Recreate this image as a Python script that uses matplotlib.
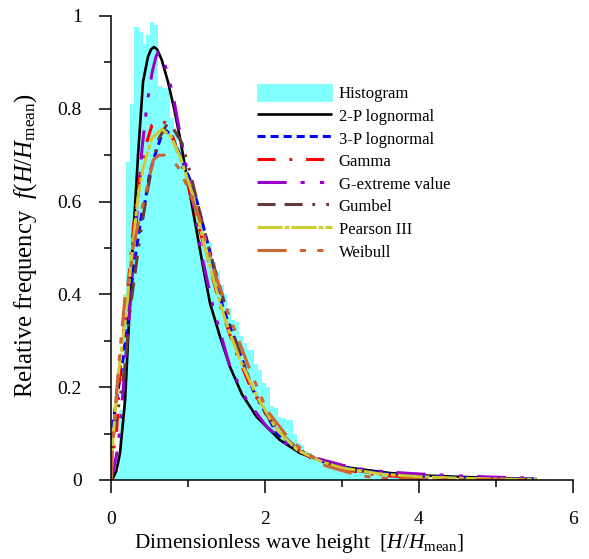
import matplotlib

matplotlib.use("Agg")
import matplotlib.pyplot as plt
from matplotlib.ticker import MultipleLocator

plt.rcParams["font.family"] = ["Liberation Serif", "DejaVu Serif"]
plt.rcParams["mathtext.fontset"] = "custom"
plt.rcParams["mathtext.rm"] = "Liberation Serif"
plt.rcParams["mathtext.it"] = "Liberation Serif:italic"
plt.rcParams["lines.scale_dashes"] = False

# histogram: left bin edges and relative frequency (bin width 0.05)
hist_left = [
    0.05, 0.10, 0.15, 0.20, 0.25, 0.30, 0.35, 0.40, 0.45, 0.50,
    0.55, 0.60, 0.65, 0.70, 0.75, 0.80, 0.85, 0.90, 0.95, 1.00,
    1.05, 1.10, 1.15, 1.20, 1.25, 1.30, 1.35, 1.40, 1.45, 1.50,
    1.55, 1.60, 1.65, 1.70, 1.75, 1.80, 1.85, 1.90, 1.95, 2.00,
    2.05, 2.10, 2.15, 2.20, 2.25, 2.30, 2.35, 2.40, 2.45, 2.50,
    2.55, 2.60, 2.65, 2.70, 2.75, 2.80, 2.85, 2.90, 2.95, 3.00,
    3.05, 3.10, 3.15, 3.20, 3.25, 3.30, 3.35, 3.40, 3.45, 3.50,
    3.55, 3.60, 3.65, 3.70, 3.75, 3.80, 3.85, 3.90, 3.95,
]
hist_freq = [
    0.02, 0.15, 0.40, 0.686, 0.81, 0.976, 0.965, 0.94, 0.96, 0.987,
    0.98, 0.85, 0.845, 0.845, 0.78, 0.75, 0.72, 0.70, 0.66, 0.63,
    0.61, 0.58, 0.55, 0.513, 0.513, 0.47, 0.45, 0.42, 0.40, 0.37,
    0.345, 0.34, 0.31, 0.295, 0.28, 0.28, 0.25, 0.237, 0.21, 0.20,
    0.16, 0.155, 0.135, 0.134, 0.13, 0.13, 0.10, 0.08, 0.075, 0.062,
    0.058, 0.052, 0.048, 0.047, 0.042, 0.040, 0.036, 0.033, 0.030, 0.027,
    0.024, 0.022, 0.020, 0.018, 0.016, 0.014, 0.012, 0.011, 0.010, 0.009,
    0.008, 0.007, 0.006, 0.005, 0.005, 0.004, 0.004, 0.003, 0.003,
]

# fitted curves
logn2_x = [0.0, 0.026, 0.07, 0.117, 0.182, 0.221, 0.28, 0.351, 0.416, 0.48,
           0.52, 0.558, 0.60, 0.66, 0.74, 0.82, 0.896, 1.0, 1.091, 1.195,
           1.286, 1.416, 1.545, 1.70, 1.892, 2.195, 2.455, 2.584, 2.974, 3.623,
           4.013, 4.5, 5.0, 5.53]
logn2_y = [0.0, 0.004, 0.02, 0.058, 0.17, 0.30, 0.50, 0.70, 0.858, 0.912,
           0.928, 0.933, 0.928, 0.905, 0.858, 0.80, 0.737, 0.64, 0.556, 0.46,
           0.381, 0.309, 0.244, 0.185, 0.136, 0.086, 0.058, 0.050, 0.029, 0.015,
           0.010, 0.007, 0.004, 0.002]

logn3_x = [0.0, 0.026, 0.052, 0.16, 0.29, 0.403, 0.442, 0.506, 0.571, 0.64,
           0.701, 0.78, 0.896, 1.026, 1.117, 1.312, 1.455, 1.675, 1.844, 2.156,
           2.416, 2.75, 3.0, 3.5, 4.0, 4.5, 5.0, 5.53]
logn3_y = [0.0, 0.12, 0.151, 0.266, 0.453, 0.578, 0.60, 0.664, 0.70, 0.735,
           0.754, 0.745, 0.70, 0.647, 0.60, 0.474, 0.37, 0.273, 0.194, 0.10,
           0.065, 0.040, 0.028, 0.015, 0.008, 0.005, 0.003, 0.002]

gamma_x = [0.0, 0.026, 0.074, 0.117, 0.225, 0.30, 0.377, 0.468, 0.532, 0.62,
           0.70, 0.80, 0.90, 1.0, 1.15, 1.30, 1.40, 1.60, 1.80, 2.0,
           2.2, 2.4, 2.6, 2.8, 3.0, 3.5, 4.0, 4.5, 5.0, 5.53]
gamma_y = [0.0, 0.058, 0.108, 0.237, 0.424, 0.56, 0.657, 0.73, 0.765, 0.778,
           0.77, 0.74, 0.69, 0.635, 0.54, 0.45, 0.385, 0.285, 0.205, 0.145,
           0.10, 0.068, 0.047, 0.033, 0.023, 0.010, 0.005, 0.002, 0.001, 0.0005]

gev_x = [0.0, 0.02, 0.091, 0.156, 0.221, 0.29, 0.351, 0.403, 0.468, 0.53,
         0.58, 0.61, 0.66, 0.72, 0.805, 0.87, 0.95, 1.065, 1.17, 1.325,
         1.545, 1.762, 2.022, 2.325, 2.6, 3.0, 3.3, 3.62, 4.0, 4.5,
         5.0, 5.53]
gev_y = [0.0, 0.012, 0.07, 0.19, 0.32, 0.47, 0.60, 0.715, 0.81, 0.875,
         0.91, 0.922, 0.912, 0.885, 0.83, 0.77, 0.70, 0.60, 0.49, 0.373,
         0.244, 0.172, 0.115, 0.072, 0.05, 0.032, 0.022, 0.017, 0.013, 0.009,
         0.006, 0.004]

gumbel_x = [0.0, 0.026, 0.10, 0.182, 0.25, 0.34, 0.40, 0.48, 0.545, 0.62,
            0.727, 0.80, 0.922, 1.026, 1.156, 1.286, 1.442, 1.60, 1.75, 1.896,
            2.156, 2.416, 2.7, 3.0, 3.5, 4.0, 4.5, 5.0, 5.53]
gumbel_y = [0.04, 0.09, 0.16, 0.245, 0.37, 0.48, 0.55, 0.63, 0.685, 0.735,
            0.767, 0.76, 0.726, 0.664, 0.575, 0.49, 0.40, 0.31, 0.235, 0.175,
            0.108, 0.068, 0.042, 0.026, 0.012, 0.006, 0.003, 0.0015, 0.001]

pearson_x = [0.0, 0.026, 0.095, 0.182, 0.268, 0.351, 0.416, 0.532, 0.662, 0.78,
             0.90, 1.07, 1.22, 1.37, 1.455, 1.545, 1.675, 1.896, 2.156, 2.416,
             2.75, 3.0, 3.5, 4.0, 4.5, 5.0, 5.53]
pearson_y = [0.0, 0.086, 0.23, 0.338, 0.481, 0.61, 0.672, 0.737, 0.756, 0.74,
             0.695, 0.61, 0.50, 0.41, 0.36, 0.316, 0.259, 0.18, 0.108, 0.065,
             0.038, 0.026, 0.013, 0.007, 0.004, 0.002, 0.001]

weibull_x = [0.0, 0.026, 0.078, 0.117, 0.182, 0.247, 0.286, 0.38, 0.468, 0.55,
             0.62, 0.70, 0.78, 0.87, 1.0, 1.156, 1.351, 1.524, 1.805, 2.022,
             2.325, 2.757, 3.234, 3.6, 4.0, 4.5, 5.0, 5.53]
weibull_y = [0.0, 0.086, 0.20, 0.28, 0.395, 0.446, 0.50, 0.57, 0.63, 0.69,
             0.70, 0.70, 0.69, 0.675, 0.63, 0.56, 0.445, 0.359, 0.237, 0.151,
             0.086, 0.032, 0.009, 0.003, 0.001, 0.0005, 0.0003, 0.0002]

x_ticks = [0, 2, 4, 6]
y_ticks = [0, 0.2, 0.4, 0.6, 0.8, 1]
y_tick_labels = ["0", "0.2", "0.4", "0.6", "0.8", "1"]

fig = plt.figure(figsize=(5.89, 5.59), dpi=100)
ax = fig.add_axes([111 / 589, 1 - 480 / 559, 462 / 589, 464 / 559])

bars = ax.bar(hist_left, hist_freq, width=0.05, align="edge",
              color="#80ffff", edgecolor="#80ffff", linewidth=0.6,
              antialiased=False, label="Histogram")

lw = 2.2
curves = [
    (logn2_x, logn2_y, "#000000", None, "2-P lognormal", 1.9),
    (logn3_x, logn3_y, "#0000ff", (0, (5.8, 3.6)), "3-P lognormal", lw),
    (gamma_x, gamma_y, "#ff0000", (0, (13, 10, 2, 10)), "Gamma", lw),
    (gev_x, gev_y, "#9900cc", (0, (21, 10, 3, 11, 3, 10)), "G-extreme value", lw),
    (gumbel_x, gumbel_y, "#663a3a", (0, (13, 6.5, 13, 7, 2, 8, 2, 7)), "Gumbel", lw),
    (pearson_x, pearson_y, "#cccc33", (0, (18, 1.5, 3.5, 1.5)), "Pearson III", lw),
    (weibull_x, weibull_y, "#cc6633", (0, (21, 9.5, 4.5, 8, 4.5, 8)), "Weibull", lw),
]
handles = [bars]
for xs, ys, color, dash, label, width in curves:
    style = "-" if dash is None else dash
    line, = ax.plot(xs, ys, color=color, linestyle=style, linewidth=width,
                    label=label, dash_capstyle="butt", solid_capstyle="butt")
    handles.append(line)

ax.set_xlim(0, 6)
ax.set_ylim(0, 1)
ax.set_xticks(x_ticks)
ax.set_yticks(y_ticks)
ax.set_yticklabels(y_tick_labels)
ax.xaxis.set_minor_locator(MultipleLocator(1))
ax.yaxis.set_minor_locator(MultipleLocator(0.1))
ax.tick_params(which="major", direction="out", length=9, width=1.1,
               labelsize=14)
ax.tick_params(axis="x", which="major", pad=13.5)
ax.tick_params(axis="y", which="major", pad=12)
ax.tick_params(which="minor", direction="out", length=5, width=1.1)

for side in ("top", "right"):
    ax.spines[side].set_visible(False)
for side in ("left", "bottom"):
    ax.spines[side].set_linewidth(1.1)

ax.set_xlabel(r"Dimensionless wave height  [$H$/$H_{\mathrm{mean}}$]", fontsize=15.4)
ax.set_ylabel(r"Relative frequency  $f$($H$/$H_{\mathrm{mean}}$)", fontsize=17.8)
ax.xaxis.set_label_coords(0.407, -0.113)
ax.yaxis.set_label_coords(-0.155, 0.505)

ax.legend(handles=handles, loc="upper left",
          bbox_to_anchor=(257 / 589, 1 - 84 / 559),
          bbox_transform=fig.transFigure, frameon=False, fontsize=12,
          handlelength=4.5, handleheight=1.2, handletextpad=0.4,
          labelspacing=0.27, borderpad=0, borderaxespad=0)

fig.savefig("out.png", dpi=100)
